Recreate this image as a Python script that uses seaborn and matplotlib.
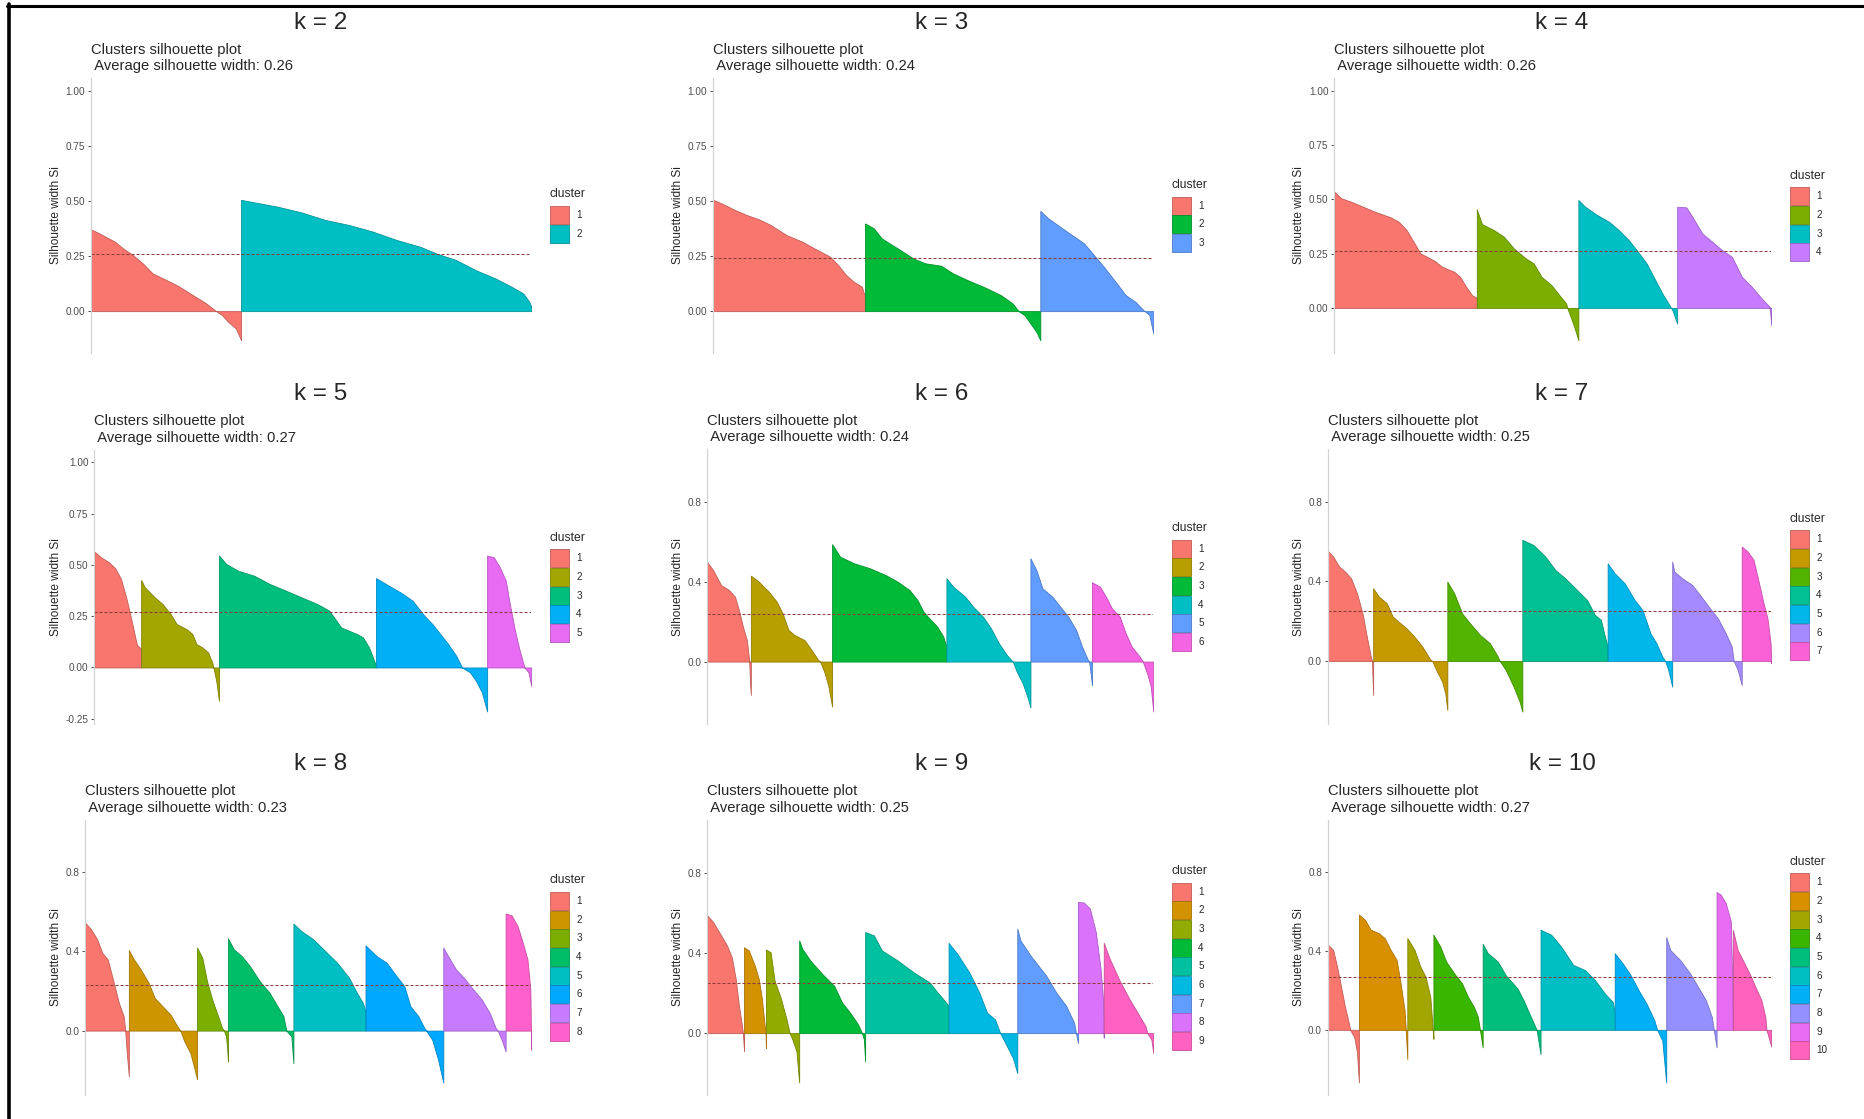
import numpy as np
import pandas as pd
import matplotlib.pyplot as plt
import seaborn as sns
from matplotlib.patches import Patch
from matplotlib.lines import Line2D
from matplotlib.ticker import MultipleLocator, FormatStrFormatter


# ---------------------------------------------------------------------------
# Silhouette outlines read off the picture: (observation index, silhouette width)
# one list per cluster, observations sorted inside each cluster
# ---------------------------------------------------------------------------

k2_clusters = [
    [(0, .371), (6.7, .353), (20, .315), (26.7, .285), (35, .255), (43.3, .217), (51.7, .171),
     (63.3, .141), (73.3, .114), (83.3, .080), (96.7, .035), (105, 0), (110, -.018), (115, -.048),
     (121.7, -.079), (126, -.132)],
    [(126, .505), (136.7, .494), (156.7, .474), (176.7, .448), (196.7, .414), (216.7, .391),
     (236.7, .361), (256.7, .323), (276.7, .292), (290, .262), (306.7, .232), (323.3, .186),
     (340, .148), (353.3, .111), (363.3, .080), (368.3, .042), (370, .02)],
]

k3_clusters = [
    [(0, .505), (8.3, .486), (18.3, .459), (28.3, .436), (38.3, .417), (48.3, .391), (61.7, .345),
     (75, .315), (85, .285), (98.3, .247), (105, .209), (111.7, .164), (118.3, .133), (125, .111),
     (126.7, .08), (127.7, .08)],
    [(127.7, .398), (135, .376), (141.7, .330), (155, .285), (168.3, .239), (178.3, .217),
     (191.7, .206), (201.7, .171), (215, .138), (228.3, .108), (241.7, .073), (251.7, .035),
     (256.7, 0), (261.7, -.018), (266.7, -.056), (271.7, -.094), (275, -.132)],
    [(275, .455), (281.7, .421), (291.7, .383), (301.7, .345), (311.7, .308), (320, .255),
     (328.3, .202), (338.3, .133), (346.7, .073), (355, .042), (361.7, .005), (366.7, -.018),
     (370, -.102)],
]

k4_clusters = [
    [(0, .535), (5.7, .505), (14.1, .489), (24.2, .466), (34.3, .443), (47.7, .417), (54.4, .397),
     (61.2, .358), (66.2, .312), (72.9, .251), (84.7, .217), (91.4, .189), (101.5, .166),
     (106.5, .143), (111.6, .097), (116.6, .058), (120.6, .046)],
    [(120.6, .454), (125, .386), (135.1, .358), (143.5, .328), (151.9, .274), (162, .228),
     (168.7, .205), (175.4, .143), (183.8, .105), (190.6, .058), (196.3, .020), (197.2, 0),
     (200.6, -.049), (204, -.103), (206.6, -.149)],
    [(206.6, .497), (212.3, .466), (222.4, .428), (232.5, .397), (240.9, .358), (249.3, .312),
     (256, .266), (264.4, .205), (271.1, .135), (277.8, .066), (282.9, .020), (286.3, -.011),
     (290.3, -.072)],
    [(290.3, .466), (298, .463), (303.1, .420), (311.5, .343), (319.9, .305), (328.3, .266),
     (336.7, .235), (345.1, .143), (353.5, .097), (361.9, .043), (368.6, .005), (370, -.08)],
]

k5_clusters = [
    [(0, .565), (5.7, .537), (12.4, .513), (17.5, .485), (22.5, .432), (26.9, .342), (30.9, .244),
     (34.3, .155), (36, .111), (38.3, .098), (39.6, .09)],
    [(39.6, .427), (42.7, .391), (51.1, .342), (57.8, .309), (64.5, .261), (69.6, .212), (78, .187),
     (83, .163), (86.4, .114), (91.4, .098), (96.4, .073), (99.8, .024), (100.8, 0),
     (103.2, -.065), (105.5, -.163)],
    [(105.5, .546), (111.6, .505), (121.6, .472), (135.1, .448), (148.5, .407), (162, .375),
     (175.4, .342), (188.9, .309), (198.9, .277), (209, .195), (215.7, .179), (222.4, .163),
     (227.4, .147), (232.5, .098), (235.9, .049), (238.5, .008)],
    [(238.5, .436), (249.3, .399), (259.3, .366), (269.4, .326), (279.5, .252), (286.2, .212),
     (292.9, .163), (299.6, .114), (306.4, .057), (311.4, 0), (318.1, -.024), (323.1, -.065),
     (328.2, -.122), (332.6, -.215)],
    [(332.6, .546), (338.3, .537), (343.3, .489), (348.4, .423), (351.8, .309), (356.2, .179),
     (360.2, .081), (364.2, 0), (367.6, -.024), (370, -.09)],
]

k6_clusters = [
    [(0, .497), (4.9, .458), (11.5, .383), (18.1, .358), (23, .325), (26.3, .258), (29.6, .175),
     (32.9, .108), (34.9, 0), (35.5, -.108), (36.2, -.167)],
    [(36.2, .43), (42.8, .40), (51, .35), (57.6, .30), (62.5, .242), (67.4, .158), (72.4, .133),
     (80.6, .108), (85.5, .067), (92.1, .008), (93.7, 0), (97, -.05), (100.3, -.117), (103.6, -.225)],
    [(103.6, .588), (110.2, .525), (121.7, .492), (134.9, .467), (148, .433), (157.9, .40),
     (167.8, .358), (174.4, .308), (179.3, .25), (184.2, .217), (190.8, .175), (195.8, .125),
     (198.4, .075)],
    [(198.4, .417), (204, .375), (213.9, .325), (220.5, .275), (228.7, .225), (235.3, .167),
     (241.9, .092), (248.5, .033), (253.4, 0), (256.7, -.05), (261.6, -.108), (265.9, -.183),
     (268.1, -.23)],
    [(268.1, .517), (273, .458), (278, .367), (286.2, .325), (292.8, .275), (299.4, .225),
     (306, .158), (310.9, .075), (315.8, .008), (316.8, 0), (318.5, -.083), (319.1, -.117)],
    [(319.1, .397), (325.7, .375), (330.7, .325), (335.6, .267), (342.2, .225), (347.1, .142),
     (352.1, .075), (358.7, .025), (361.3, 0), (365.3, -.067), (367.9, -.125), (370, -.25)],
]

k7_clusters = [
    [(0, .552), (4.3, .524), (9.3, .474), (14.2, .449), (19.2, .415), (24.2, .340), (29.1, .231),
     (32.4, .122), (35.7, .022), (36.7, 0), (37.7, -.171)],
    [(37.7, .365), (42.4, .323), (49, .290), (54, .223), (58.9, .197), (65.5, .164), (72.1, .122),
     (78.7, .072), (85.3, .008), (87, 0), (90.3, -.045), (95.3, -.104), (97.9, -.162), (99.6, -.246)],
    [(99.6, .398), (105.3, .340), (111.9, .239), (118.5, .189), (126.8, .131), (135.1, .089),
     (141.7, .022), (143.3, 0), (148.3, -.045), (154.9, -.129), (159.9, -.204), (162.2, -.254)],
    [(162.2, .608), (171.5, .582), (181.4, .524), (189.7, .457), (198, .415), (207.9, .356),
     (216.2, .306), (222.8, .231), (227.8, .206), (231.1, .122), (233.4, .072)],
    [(233.4, .49), (239.3, .44), (247.6, .39), (255.9, .306), (262.5, .256), (269.1, .139),
     (274.1, .089), (279, .022), (281.4, 0), (284, -.045), (287.3, -.129)],
    [(287.3, .499), (289, .449), (295.6, .415), (303.9, .382), (310.5, .331), (318.8, .264),
     (325.4, .214), (332, .139), (337, .072), (338.6, 0), (342, -.045), (345.3, -.121)],
    [(345.3, .574), (350.3, .549), (355.2, .507), (358.5, .423), (363.5, .29), (366.8, .214),
     (369.4, .089), (370, -.012)],
]

k8_clusters = [
    [(0, .545), (4.9, .511), (9.9, .461), (14.1, .393), (18.7, .359), (23, .258), (27.9, .140),
     (31.9, .073), (33.2, 0), (34.5, -.113), (36.2, -.231)],
    [(36.2, .407), (39.5, .368), (46, .309), (52.6, .241), (57.6, .165), (64.1, .123), (70.7, .081),
     (75.6, .030), (78.9, 0), (82.2, -.054), (87.2, -.113), (90.5, -.189), (92.8, -.245)],
    [(92.8, .419), (97.1, .368), (101, .250), (105.3, .157), (110.2, .073), (113.5, .014),
     (115.1, 0), (116.8, -.029), (117.8, -.096), (118.4, -.155)],
    [(118.4, .466), (123.3, .410), (129.9, .376), (136.5, .326), (144.7, .250), (152.9, .191),
     (159.5, .123), (164.4, .073), (166.8, 0), (171, -.029), (172.7, -.164)],
    [(172.7, .540), (179.2, .503), (189.1, .461), (199, .402), (208.9, .343), (218.8, .267),
     (225.3, .191), (230.3, .140), (232.5, .098)],
    [(232.5, .430), (241.7, .376), (249.9, .343), (258.2, .275), (264.7, .224), (269.7, .123),
     (276.3, .073), (281.2, .014), (282.8, 0), (287.8, -.046), (292.7, -.147), (297, -.262)],
    [(297, .419), (301, .376), (307.5, .309), (314.1, .267), (320.7, .216), (328.9, .157),
     (335.5, .089), (340.4, .014), (342.1, 0), (345.4, -.046), (348.7, -.105)],
    [(348.7, .591), (353.6, .582), (358.6, .528), (362.9, .444), (366.8, .359), (369.2, .208),
     (369.7, 0), (370, -.096)],
]

k9_clusters = [
    [(0, .587), (4.9, .554), (11.5, .487), (16.4, .437), (20.4, .378), (23.7, .269), (26.3, .136),
     (28.9, .035), (29.6, 0), (30.6, -.09)],
    [(30.6, .428), (34.5, .412), (39.5, .336), (42.8, .269), (45.4, .169), (47.7, .035), (48.4, 0),
     (48.7, -.074)],
    [(48.7, .417), (52.6, .403), (55.9, .261), (60.9, .177), (65.8, .069), (68.4, 0), (70.7, -.032),
     (74, -.09), (76.3, -.246)],
    [(76.3, .462), (78.9, .420), (85.5, .362), (95.4, .295), (105.3, .236), (111.9, .152),
     (118.5, .102), (125.1, .044), (128.4, 0), (130, -.032), (131, -.141)],
    [(131, .504), (138.3, .487), (144.9, .412), (158, .362), (171.2, .303), (184.4, .253),
     (191, .203), (195.9, .169), (200.2, .136)],
    [(200.2, .450), (207.5, .395), (217.3, .303), (225.6, .203), (232.1, .102), (238.7, .069),
     (243, 0), (248.6, -.065), (253.5, -.124), (257.2, -.199)],
    [(257.2, .521), (259.8, .462), (268.1, .387), (281.2, .286), (289.4, .203), (297.7, .136),
     (304.3, .052), (305.9, 0), (307.5, -.049)],
    [(307.5, .654), (312.4, .651), (317.4, .621), (322.3, .504), (326.3, .320), (328.3, .169),
     (328.9, -.023)],
    [(328.9, .450), (333.9, .370), (342.1, .261), (350.3, .169), (356.9, .102), (363.5, .035),
     (365.1, 0), (368.4, -.032), (370, -.099)],
]

k10_clusters = [
    [(0, .431), (4.3, .405), (7.6, .320), (10.9, .218), (14.2, .116), (17.5, .031), (18.5, 0),
     (21.9, -.037), (24.2, -.114), (25.8, -.267)],
    [(25.8, .584), (30.8, .558), (35.7, .507), (42.4, .490), (47.3, .465), (52.3, .405),
     (57.3, .354), (60.6, .235), (63.9, .099), (64.9, 0), (66.2, -.148)],
    [(66.2, .465), (72.2, .405), (77.1, .320), (81.4, .269), (85.4, .167), (87.4, 0), (88, -.046)],
    [(88, .482), (93.7, .422), (98.6, .346), (105.3, .286), (111.9, .235), (116.8, .167),
     (121.8, .116), (125.1, .065), (126.8, 0), (129.1, -.089)],
    [(129.1, .436), (133.4, .388), (141.7, .346), (148.3, .277), (158.2, .209), (163.2, .150),
     (168.1, .082), (173.1, .014), (174.1, 0), (177.4, -.123)],
    [(177.4, .507), (186.3, .482), (194.6, .422), (204.6, .329), (214.5, .303), (222.8, .252),
     (231.1, .184), (237.7, .141), (239.3, .090)],
    [(239.3, .388), (245.9, .337), (252.6, .277), (259.2, .201), (265.8, .133), (272.4, .048),
     (274.7, 0), (279, -.054), (282.3, -.267)],
    [(282.3, .470), (285.6, .405), (293.9, .354), (302.2, .286), (308.8, .218), (315.4, .150),
     (320.4, .065), (322, 0), (324.3, -.089)],
    [(324.3, .698), (327.6, .686), (331.9, .643), (336.2, .550), (337.5, .218), (337.9, 0)],
    [(337.9, .507), (341.9, .405), (346.8, .346), (351.8, .286), (356.7, .218), (361.7, .150),
     (365, .065), (366, 0), (370, -.085)],
]

k_values = [2, 3, 4, 5, 6, 7, 8, 9, 10]
avg_width = [0.26, 0.24, 0.26, 0.27, 0.24, 0.25, 0.23, 0.25, 0.27]
all_clusters = [k2_clusters, k3_clusters, k4_clusters, k5_clusters, k6_clusters,
                k7_clusters, k8_clusters, k9_clusters, k10_clusters]

# ggplot2 default hue palettes
hue_pal = {
    2: ["#F8766D", "#00BFC4"],
    3: ["#F8766D", "#00BA38", "#619CFF"],
    4: ["#F8766D", "#7CAE00", "#00BFC4", "#C77CFF"],
    5: ["#F8766D", "#A3A500", "#00BF7D", "#00B0F6", "#E76BF3"],
    6: ["#F8766D", "#B79F00", "#00BA38", "#00BFC4", "#619CFF", "#F564E3"],
    7: ["#F8766D", "#C49A00", "#53B400", "#00C094", "#00B6EB", "#A58AFF", "#FB61D7"],
    8: ["#F8766D", "#CD9600", "#7CAE00", "#00BE67", "#00BFC4", "#00A9FF", "#C77CFF", "#FF61CC"],
    9: ["#F8766D", "#D39200", "#93AA00", "#00BA38", "#00C19F", "#00B9E3", "#619CFF",
        "#DB72FB", "#FF61C3"],
    10: ["#F8766D", "#D89000", "#A3A500", "#39B600", "#00BF7D", "#00BFC4", "#00B0F6",
         "#9590FF", "#E76BF3", "#FF62BC"],
}

# ---------------------------------------------------------------------------
# Layout (pixels): panel rects as (left, top, right, bottom)
# ---------------------------------------------------------------------------
W, H = 1865, 1119
panel_px = [
    (91.2, 78.3, 531.3, 352.7), (713.2, 78.3, 1153.3, 352.7), (1334.4, 78.3, 1771.3, 352.7),
    (94.4, 450.0, 531.3, 724.0), (707.2, 449.3, 1153.3, 724.0), (1328.0, 449.3, 1771.3, 724.0),
    (85.2, 820.0, 531.3, 1095.0), (707.2, 820.0, 1153.3, 1095.0), (1328.0, 820.0, 1771.3, 1095.0),
]
title_x = [321, 942, 1562]
title_y = [23.3, 394, 764]
tick_step = [0.25, 0.25, 0.25, 0.25, 0.4, 0.4, 0.4, 0.4, 0.4]

sns.set_style("white")
plt.rcParams["font.family"] = ["Liberation Sans", "DejaVu Sans"]
plt.rcParams["axes.unicode_minus"] = False


def darker(color, f=0.78):
    r, g, b = plt.matplotlib.colors.to_rgb(color)
    return (r * f, g * f, b * f)


fig = plt.figure(figsize=(W / 100, H / 100), dpi=100)

for i, (k, clusters) in enumerate(zip(k_values, all_clusters)):
    left, top, right, bottom = panel_px[i]
    ax = fig.add_axes([left / W, 1 - bottom / H, (right - left) / W, (bottom - top) / H])

    rows = [(c + 1, obs, si) for c, pts in enumerate(clusters) for obs, si in pts]
    df = pd.DataFrame(rows, columns=["cluster", "obs", "sil"])
    colors = hue_pal[k]

    for c, grp in df.groupby("cluster"):
        col = colors[c - 1]
        ax.fill_between(grp["obs"], grp["sil"], 0, facecolor=col,
                        edgecolor=darker(col), linewidth=0.6)

    ax.axhline(avg_width[i], color="#8B3A3A", linestyle=(0, (2.9, 1.9)), linewidth=0.75)

    # ggplot-like limits: data min to 1 with 5% expansion
    smin = df["sil"].min()
    span = 1 - smin
    ax.set_ylim(smin - 0.05 * span, 1 + 0.05 * span)
    ax.set_xlim(df["obs"].min(), df["obs"].max())

    ax.yaxis.set_major_locator(MultipleLocator(tick_step[i]))
    fmt = "%.2f" if tick_step[i] == 0.25 else "%.1f"
    ax.yaxis.set_major_formatter(FormatStrFormatter(fmt))
    ax.set_xticks([])
    ax.tick_params(axis="y", left=True, length=2.3, width=0.6, color="#333333",
                   labelsize=7.2, labelcolor="#4D4D4D", pad=2)
    sns.despine(ax=ax, top=True, right=True, bottom=True)
    ax.spines["left"].set_color("#D3D3D3")
    ax.spines["left"].set_linewidth(0.9)
    ax.set_ylabel("Silhouette width Si", fontsize=8.6, labelpad=2.5)

    handles = [Patch(facecolor=col, edgecolor=darker(col), linewidth=0.6, label=str(j + 1))
               for j, col in enumerate(colors)]
    ax_w = right - left
    leg = ax.legend(handles=handles, title="cluster", loc="center left",
                    bbox_to_anchor=(1 + 18.7 / ax_w, 0.5), frameon=False, fontsize=7.1,
                    title_fontsize=8.7, alignment="left", borderpad=0, borderaxespad=0,
                    handlelength=1.95, handleheight=2.43, labelspacing=0.07,
                    handletextpad=0.7)
    leg._legend_box.sep = 4  # a bit of room under the legend title

    sub_y = top - 20.5
    fig.text(left / W, 1 - sub_y / H,
             f"Clusters silhouette plot\n Average silhouette width: {avg_width[i]:.2f}",
             ha="left", va="center", fontsize=10.6, linespacing=1.2)
    fig.text(title_x[i % 3] / W, 1 - title_y[i // 3] / H, f"k = {k}",
             ha="center", va="center", fontsize=17.5)

# screenshot frame on top and left
fig.add_artist(Line2D([7 / W, 1], [1 - 5.8 / H] * 2, transform=fig.transFigure,
                      color="black", linewidth=2.2))
fig.add_artist(Line2D([8.9 / W] * 2, [0, 1 - 4.3 / H], transform=fig.transFigure,
                      color="black", linewidth=2.6))

fig.savefig("out.png", dpi=100, facecolor="white")
